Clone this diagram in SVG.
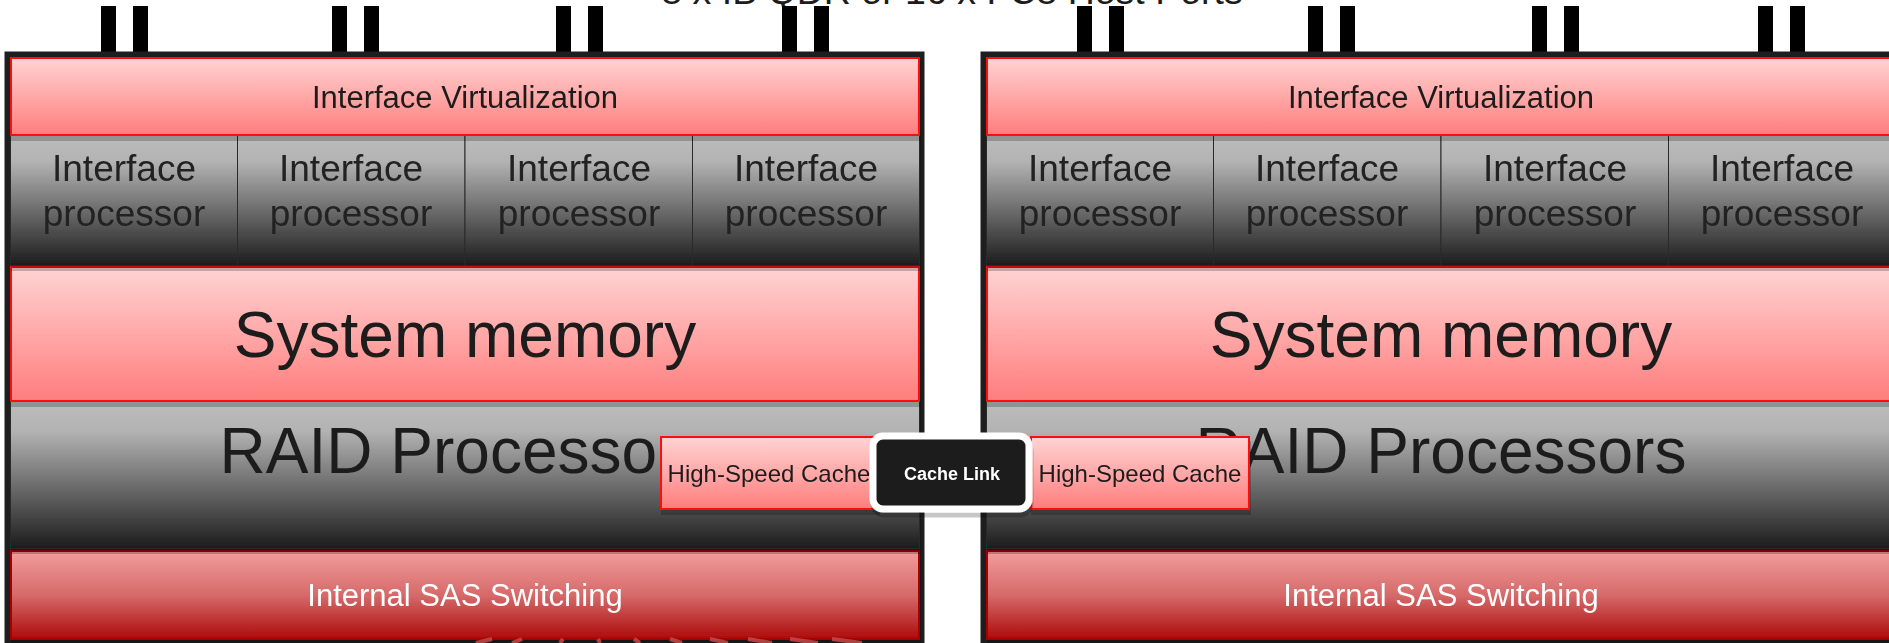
<svg xmlns="http://www.w3.org/2000/svg" width="1889" height="643" viewBox="0 0 1889 643">
  <defs>
    <linearGradient id="pinkGrad" x1="0" y1="0" x2="0" y2="1">
      <stop offset="0" stop-color="#ffd3d3"/>
      <stop offset="1" stop-color="#ff7d7d"/>
    </linearGradient>
    <linearGradient id="grayGrad" x1="0" y1="0" x2="0" y2="1">
      <stop offset="0" stop-color="#bcbcbc"/>
      <stop offset="0.2" stop-color="#b3b3b3"/>
      <stop offset="1" stop-color="#1c1c1c"/>
    </linearGradient>
    <linearGradient id="sasGrad" x1="0" y1="0" x2="0" y2="1">
      <stop offset="0" stop-color="#f29c9c"/>
      <stop offset="0.5" stop-color="#d66a6a"/>
      <stop offset="1" stop-color="#ad0b0b"/>
    </linearGradient>
    <filter id="shadow" x="-5%" y="-10%" width="110%" height="130%">
      <feFlood flood-color="#000" flood-opacity="0.22"/>
      <feComposite in2="SourceAlpha" operator="in"/>
      <feOffset dx="1" dy="5"/>
      <feMerge>
        <feMergeNode/>
        <feMergeNode in="SourceGraphic"/>
      </feMerge>
    </filter>
  </defs>
  <style>
    .frame { fill: #1e1e1e; }
    .pink { fill: url(#pinkGrad); stroke: #ff1010; stroke-width: 2; }
    .gray { fill: url(#grayGrad); stroke: #2a2a2a; stroke-width: 1; }
    .sas { fill: url(#sasGrad); stroke: #a80000; stroke-width: 2; }
    .port { fill: #000; }
    .t { font-family: "Liberation Sans", Arial, sans-serif; fill: #1c1c1c; text-anchor: middle; }
    .small { font-size: 31px; }
    .proc { font-size: 37px; fill: #222; }
    .big { font-size: 64px; }
    .white { fill: #ffffff; }
    .cache { fill: url(#pinkGrad); stroke: #ff1010; stroke-width: 2; }
    .cachetext { font-size: 24px; }
    .link { fill: #1a1a1a; stroke: #ffffff; stroke-width: 7; }
    .linktext { font-size: 18px; font-weight: bold; fill: #ffffff; }
  </style>

  <rect width="1889" height="643" fill="#ffffff"/>

  <!-- heading, mostly above the top edge -->
  <text class="t" x="952" y="3.5" font-size="37.5">8 x IB QDR or 16 x FC8 Host Ports</text>

  <!-- host ports and links -->
  <g id="connectors">
    <g id="host-ports-a">
      <rect class="port" x="101" y="6" width="15" height="47"/>
      <rect class="port" x="133" y="6" width="15" height="47"/>
      <rect class="port" x="332" y="6" width="15" height="47"/>
      <rect class="port" x="364" y="6" width="15" height="47"/>
      <rect class="port" x="556" y="6" width="15" height="47"/>
      <rect class="port" x="588" y="6" width="15" height="47"/>
      <rect class="port" x="782" y="6" width="15" height="47"/>
      <rect class="port" x="814" y="6" width="15" height="47"/>
    </g>
    <g id="host-ports-b" transform="translate(976,0)">
      <rect class="port" x="101" y="6" width="15" height="47"/>
      <rect class="port" x="133" y="6" width="15" height="47"/>
      <rect class="port" x="332" y="6" width="15" height="47"/>
      <rect class="port" x="364" y="6" width="15" height="47"/>
      <rect class="port" x="556" y="6" width="15" height="47"/>
      <rect class="port" x="588" y="6" width="15" height="47"/>
      <rect class="port" x="782" y="6" width="15" height="47"/>
      <rect class="port" x="814" y="6" width="15" height="47"/>
    </g>
  </g>

  <!-- controller A -->
  <g id="controller-a">
    <rect class="frame" x="4.5" y="51.5" width="920" height="600"/>
    <g id="sas-a" filter="url(#shadow)">
      <rect class="sas" x="11" y="551" width="908" height="88"/>
      <text class="t small white" x="465" y="606">Internal SAS Switching</text>
    </g>
    <g id="raid-a" filter="url(#shadow)">
      <rect class="gray" x="10.5" y="401.5" width="909" height="147"/>
      <text class="t big" x="465" y="473">RAID Processors</text>
    </g>
    <g id="memory-a" filter="url(#shadow)">
      <rect class="pink" x="11" y="267" width="908" height="134"/>
      <text class="t big" x="465" y="357">System memory</text>
    </g>
    <g id="processors-a" filter="url(#shadow)">
      <rect class="gray" x="10.5" y="135.5" width="227" height="130"/>
      <rect class="gray" x="237.5" y="135.5" width="227.5" height="130"/>
      <rect class="gray" x="465" y="135.5" width="227.5" height="130"/>
      <rect class="gray" x="692.5" y="135.5" width="227" height="130"/>
      <text class="t proc" x="124" y="181">Interface</text>
      <text class="t proc" x="124" y="226">processor</text>
      <text class="t proc" x="351" y="181">Interface</text>
      <text class="t proc" x="351" y="226">processor</text>
      <text class="t proc" x="579" y="181">Interface</text>
      <text class="t proc" x="579" y="226">processor</text>
      <text class="t proc" x="806" y="181">Interface</text>
      <text class="t proc" x="806" y="226">processor</text>
    </g>
    <g id="virtualization-a" filter="url(#shadow)">
      <rect class="pink" x="11" y="58" width="908" height="77"/>
      <text class="t small" x="465" y="108">Interface Virtualization</text>
    </g>
    <!-- drive cabling leaving the bottom of the shelf -->
    <g stroke="#c84a4a" stroke-width="4" fill="none" opacity="0.85">
      <path d="M476 643 L492 639"/>
      <path d="M512 643 L522 639"/>
      <path d="M560 643 L563 639"/>
      <path d="M600 643 L598 639"/>
      <path d="M640 643 L634 639"/>
      <path d="M682 643 L670 639"/>
      <path d="M728 643 L710 639"/>
      <path d="M772 643 L748 639"/>
      <path d="M818 643 L790 639"/>
      <path d="M862 643 L832 639"/>
    </g>
  </g>

  <!-- controller B -->
  <g id="controller-b" transform="translate(976,0)">
    <rect class="frame" x="4.5" y="51.5" width="920" height="600"/>
    <g id="sas-b" filter="url(#shadow)">
      <rect class="sas" x="11" y="551" width="908" height="88"/>
      <text class="t small white" x="465" y="606">Internal SAS Switching</text>
    </g>
    <g id="raid-b" filter="url(#shadow)">
      <rect class="gray" x="10.5" y="401.5" width="909" height="147"/>
      <text class="t big" x="465" y="473">RAID Processors</text>
    </g>
    <g id="memory-b" filter="url(#shadow)">
      <rect class="pink" x="11" y="267" width="908" height="134"/>
      <text class="t big" x="465" y="357">System memory</text>
    </g>
    <g id="processors-b" filter="url(#shadow)">
      <rect class="gray" x="10.5" y="135.5" width="227" height="130"/>
      <rect class="gray" x="237.5" y="135.5" width="227.5" height="130"/>
      <rect class="gray" x="465" y="135.5" width="227.5" height="130"/>
      <rect class="gray" x="692.5" y="135.5" width="227" height="130"/>
      <text class="t proc" x="124" y="181">Interface</text>
      <text class="t proc" x="124" y="226">processor</text>
      <text class="t proc" x="351" y="181">Interface</text>
      <text class="t proc" x="351" y="226">processor</text>
      <text class="t proc" x="579" y="181">Interface</text>
      <text class="t proc" x="579" y="226">processor</text>
      <text class="t proc" x="806" y="181">Interface</text>
      <text class="t proc" x="806" y="226">processor</text>
    </g>
    <g id="virtualization-b" filter="url(#shadow)">
      <rect class="pink" x="11" y="58" width="908" height="77"/>
      <text class="t small" x="465" y="108">Interface Virtualization</text>
    </g>
  </g>

  <!-- mirrored write caches and the link between them -->
  <g id="cache-a" filter="url(#shadow)">
    <rect class="cache" x="661" y="437" width="217" height="72"/>
    <text class="t cachetext" x="769" y="482">High-Speed Cache</text>
  </g>
  <g id="cache-b" filter="url(#shadow)">
    <rect class="cache" x="1031" y="437" width="218" height="72"/>
    <text class="t cachetext" x="1140" y="482">High-Speed Cache</text>
  </g>
  <g id="cache-link" filter="url(#shadow)">
    <rect class="link" x="873" y="436" width="156" height="73" rx="10"/>
    <text class="t linktext" x="952" y="480">Cache Link</text>
  </g>
</svg>
